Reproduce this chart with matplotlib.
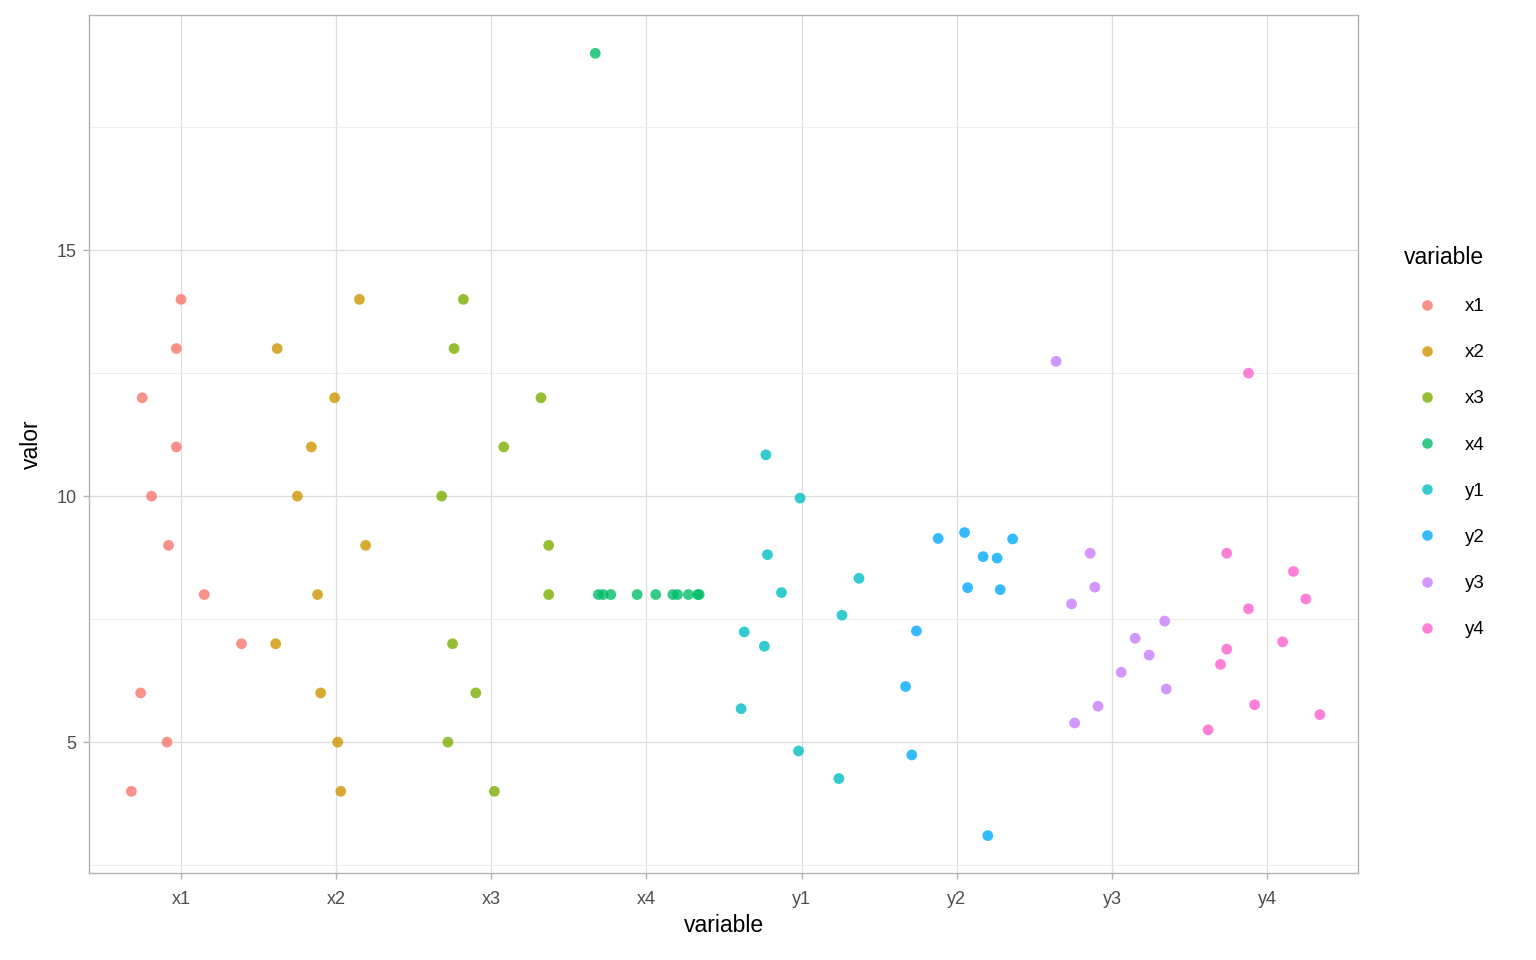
import numpy as np
import matplotlib.pyplot as plt
from matplotlib.lines import Line2D

# variables (Anscombe quartet, long format) and jittered x offsets
variables = ['x1', 'x2', 'x3', 'x4', 'y1', 'y2', 'y3', 'y4']
colores = ['#F8766D', '#CD9600', '#7CAE00', '#00BE67',
           '#00BFC4', '#00A9FF', '#C77CFF', '#FF61CC']

valores = {
    'x1': [14, 13, 12, 11, 10, 9, 8, 7, 6, 5, 4],
    'x2': [14, 13, 12, 11, 10, 9, 8, 7, 6, 5, 4],
    'x3': [14, 13, 12, 11, 10, 9, 8, 7, 6, 5, 4],
    'x4': [19, 8, 8, 8, 8, 8, 8, 8, 8, 8, 8],
    'y1': [10.84, 9.96, 8.81, 8.33, 8.04, 7.58, 7.24, 6.95, 5.68, 4.82, 4.26],
    'y2': [9.26, 9.14, 9.13, 8.77, 8.74, 8.14, 8.10, 7.26, 6.13, 4.74, 3.10],
    'y3': [12.74, 8.84, 8.15, 7.81, 7.46, 7.11, 6.77, 6.42, 6.08, 5.73, 5.39],
    'y4': [12.50, 8.84, 8.47, 7.91, 7.71, 7.04, 6.89, 6.58, 5.76, 5.56, 5.25],
}
jitter = {
    'x1': [0.00, -0.03, -0.25, -0.03, -0.19, -0.08, 0.15, 0.39, -0.26, -0.09, -0.32],
    'x2': [0.15, -0.38, -0.01, -0.16, -0.25, 0.19, -0.12, -0.39, -0.10, 0.01, 0.03],
    'x3': [-0.18, -0.24, 0.32, 0.08, -0.32, 0.37, 0.37, -0.25, -0.10, -0.28, 0.02],
    'x4': [-0.33, -0.31, -0.28, -0.23, -0.06, 0.06, 0.17, 0.20, 0.27, 0.33, 0.34],
    'y1': [-0.23, -0.01, -0.22, 0.37, -0.13, 0.26, -0.37, -0.24, -0.39, -0.02, 0.24],
    'y2': [0.05, -0.12, 0.36, 0.17, 0.26, 0.07, 0.28, -0.26, -0.33, -0.29, 0.20],
    'y3': [-0.36, -0.14, -0.11, -0.26, 0.34, 0.15, 0.24, 0.06, 0.35, -0.09, -0.24],
    'y4': [-0.12, -0.26, 0.17, 0.25, -0.12, 0.10, -0.26, -0.30, -0.08, 0.34, -0.38],
}

plt.rcParams['font.family'] = ['Liberation Sans', 'DejaVu Sans']

fig = plt.figure(figsize=(15.36, 9.6), dpi=100)
ax = fig.add_axes([89 / 1536, 1 - 873 / 960, (1358 - 89) / 1536, (873 - 15) / 960])

for i, var in enumerate(variables):
    xs = np.array(jitter[var]) + i + 1
    ax.scatter(xs, valores[var], s=60, color=colores[i], alpha=0.8,
               edgecolors='none', zorder=3)

ax.set_xlim(0.407, 8.586)
ax.set_ylim(2.34, 19.78)
ax.set_xticks(range(1, len(variables) + 1))
ax.set_xticklabels(variables)
ax.set_yticks([5, 10, 15])
ax.set_yticks([2.5, 7.5, 12.5, 17.5], minor=True)

ax.grid(True, which='major', color='#DEDEDE', linewidth=0.9, zorder=0)
ax.grid(True, which='minor', axis='y', color='#EBEBEB', linewidth=0.6, zorder=0)
ax.set_axisbelow(True)
for s in ax.spines.values():
    s.set_color('#B3B3B3')
    s.set_linewidth(1.0)
ax.tick_params(which='major', colors='#B3B3B3', labelcolor='#4D4D4D',
               labelsize=13, length=4, width=1.0, pad=5)
ax.tick_params(axis='x', pad=9)
ax.tick_params(which='minor', length=0)

ax.set_xlabel('variable', fontsize=16.5, labelpad=4)
ax.set_ylabel('valor', fontsize=16.5, labelpad=10)

handles = [Line2D([], [], marker='o', linestyle='', markersize=7.6,
                  markerfacecolor=c, markeredgecolor='none', alpha=0.8)
           for c in colores]
leg = fig.legend(handles, variables, title='variable', loc='upper left',
                 bbox_to_anchor=(1387 / 1536, 1 - 229 / 960), frameon=False,
                 fontsize=13.5, title_fontsize=16.5, labelspacing=1.55,
                 handletextpad=0.8, handlelength=2.45)
leg._legend_box.align = 'left'

fig.savefig('out.png', dpi=100)
